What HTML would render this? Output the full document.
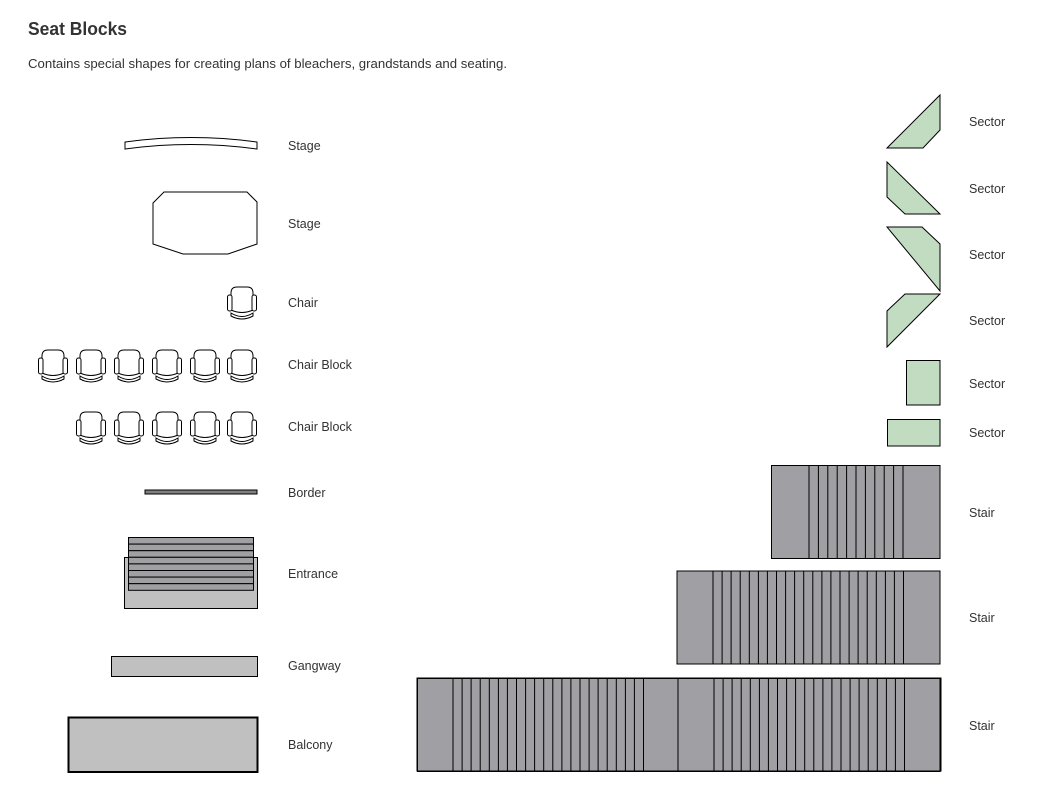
<!DOCTYPE html>
<html><head><meta charset="utf-8">
<style>
html,body{margin:0;padding:0;background:#fff;}
body{width:1050px;height:800px;overflow:hidden;position:relative;}
svg{position:absolute;left:0;top:0;}
text{font-family:"Liberation Sans",sans-serif;fill:#333;}
</style></head><body>
<svg width="1050" height="800" viewBox="0 0 1050 800" xmlns="http://www.w3.org/2000/svg">
<defs>
<g id="chair" fill="#fff" stroke="#000" stroke-width="1">
  <path d="M4,27 Q15,34 26,27 L26,30 Q15,36 4,30 Z"/>
  <path d="M4,24 L4,7 Q4,1 10,1 L20,1 Q26,1 26,7 L26,24 Q15,29 4,24 Z"/>
  <rect x="0.5" y="9" width="4.5" height="16" rx="2"/>
  <rect x="25" y="9" width="4.5" height="16" rx="2"/>
</g>
<g id="stair2">
  <rect x="677" y="571" width="263" height="93" fill="#a0a0a4" stroke="#000" stroke-width="1"/>
  <g stroke="#000" stroke-width="1">
  <line x1="713" y1="571" x2="713" y2="664"/><line x1="722.1" y1="571" x2="722.1" y2="664"/>
  <line x1="731.1" y1="571" x2="731.1" y2="664"/><line x1="740.2" y1="571" x2="740.2" y2="664"/>
  <line x1="749.3" y1="571" x2="749.3" y2="664"/><line x1="758.4" y1="571" x2="758.4" y2="664"/>
  <line x1="767.4" y1="571" x2="767.4" y2="664"/><line x1="776.5" y1="571" x2="776.5" y2="664"/>
  <line x1="785.6" y1="571" x2="785.6" y2="664"/><line x1="794.6" y1="571" x2="794.6" y2="664"/>
  <line x1="803.7" y1="571" x2="803.7" y2="664"/><line x1="812.8" y1="571" x2="812.8" y2="664"/>
  <line x1="821.9" y1="571" x2="821.9" y2="664"/><line x1="830.9" y1="571" x2="830.9" y2="664"/>
  <line x1="840" y1="571" x2="840" y2="664"/><line x1="849.1" y1="571" x2="849.1" y2="664"/>
  <line x1="858.1" y1="571" x2="858.1" y2="664"/><line x1="867.2" y1="571" x2="867.2" y2="664"/>
  <line x1="876.3" y1="571" x2="876.3" y2="664"/><line x1="885.4" y1="571" x2="885.4" y2="664"/>
  <line x1="894.4" y1="571" x2="894.4" y2="664"/><line x1="903.5" y1="571" x2="903.5" y2="664"/>
  </g>
</g>
</defs>

<text x="28" y="35" font-size="18.5" font-weight="bold" textLength="99" lengthAdjust="spacingAndGlyphs">Seat Blocks</text>
<text x="28" y="68" font-size="12.5" textLength="479" lengthAdjust="spacingAndGlyphs">Contains special shapes for creating plans of bleachers, grandstands and seating.</text>

<path d="M125,142 Q191,133 257,142 L257,149 Q191,140 125,149 Z" fill="#fff" stroke="#000" stroke-width="1"/>
<polygon points="153,203 164,192 247,192 257,202 257,244 228,254 183,254 153,244" fill="#fff" stroke="#000" stroke-width="1"/>

<use href="#chair" x="227" y="286"/>
<use href="#chair" x="38" y="349"/><use href="#chair" x="76" y="349"/><use href="#chair" x="114" y="349"/>
<use href="#chair" x="152" y="349"/><use href="#chair" x="190" y="349"/><use href="#chair" x="227" y="349"/>
<use href="#chair" x="76" y="411"/><use href="#chair" x="114" y="411"/>
<use href="#chair" x="152" y="411"/><use href="#chair" x="190" y="411"/><use href="#chair" x="227" y="411"/>

<rect x="145" y="490" width="112" height="4" fill="#808080" stroke="#000" stroke-width="1"/>

<rect x="124.5" y="557.5" width="133" height="51" fill="#c0c0c0" stroke="#000" stroke-width="1"/>
<g fill="#a0a0a4" stroke="#000" stroke-width="1">
<rect x="128.5" y="537.5" width="125" height="6.6"/>
<rect x="128.5" y="544.1" width="125" height="6.6"/>
<rect x="128.5" y="550.7" width="125" height="6.6"/>
<rect x="128.5" y="557.3" width="125" height="6.6"/>
<rect x="128.5" y="563.9" width="125" height="6.6"/>
<rect x="128.5" y="570.5" width="125" height="6.6"/>
<rect x="128.5" y="577.1" width="125" height="6.6"/>
<rect x="128.5" y="583.7" width="125" height="6.6"/>
</g>

<rect x="111.5" y="656.5" width="146" height="20" fill="#c0c0c0" stroke="#000" stroke-width="1"/>
<rect x="68.5" y="717.5" width="189" height="54.5" fill="#c0c0c0" stroke="#000" stroke-width="2"/>

<g font-size="12.5">
<text x="288" y="150">Stage</text>
<text x="288" y="228">Stage</text>
<text x="288" y="307">Chair</text>
<text x="288" y="369">Chair Block</text>
<text x="288" y="431">Chair Block</text>
<text x="288" y="497">Border</text>
<text x="288" y="578">Entrance</text>
<text x="288" y="670">Gangway</text>
<text x="288" y="749">Balcony</text>
</g>

<g fill="#c2dcc2" stroke="#000" stroke-width="1">
<polygon points="887,148 940,95 940,130 923,148"/>
<polygon points="887,162 940,214 905,214 887,197"/>
<polygon points="887,227 922,227 940,244 940,291"/>
<polygon points="887,347 887,311 905,294 940,294"/>
<rect x="906.5" y="360.5" width="33.5" height="44.5"/>
<rect x="887.5" y="419.5" width="52.5" height="26.5"/>
</g>

<rect x="771.5" y="465.5" width="168.5" height="93" fill="#a0a0a4" stroke="#000" stroke-width="1"/>
<g stroke="#000" stroke-width="1">
<line x1="809" y1="465" x2="809" y2="558"/><line x1="818.4" y1="465" x2="818.4" y2="558"/>
<line x1="827.8" y1="465" x2="827.8" y2="558"/><line x1="837.2" y1="465" x2="837.2" y2="558"/>
<line x1="846.6" y1="465" x2="846.6" y2="558"/><line x1="856" y1="465" x2="856" y2="558"/>
<line x1="865.4" y1="465" x2="865.4" y2="558"/><line x1="874.8" y1="465" x2="874.8" y2="558"/>
<line x1="884.2" y1="465" x2="884.2" y2="558"/><line x1="893.6" y1="465" x2="893.6" y2="558"/>
<line x1="903" y1="465" x2="903" y2="558"/>
</g>
<use href="#stair2"/>
<use href="#stair2" transform="translate(-260,107)"/>
<use href="#stair2" transform="translate(1,107)"/>
<rect x="417.5" y="678.5" width="522.5" height="93" fill="none" stroke="#000" stroke-width="1"/>

<g font-size="12.5">
<text x="969" y="126">Sector</text>
<text x="969" y="193">Sector</text>
<text x="969" y="259">Sector</text>
<text x="969" y="325">Sector</text>
<text x="969" y="388">Sector</text>
<text x="969" y="437">Sector</text>
<text x="969" y="517">Stair</text>
<text x="969" y="622">Stair</text>
<text x="969" y="730">Stair</text>
</g>
</svg>
</body></html>
